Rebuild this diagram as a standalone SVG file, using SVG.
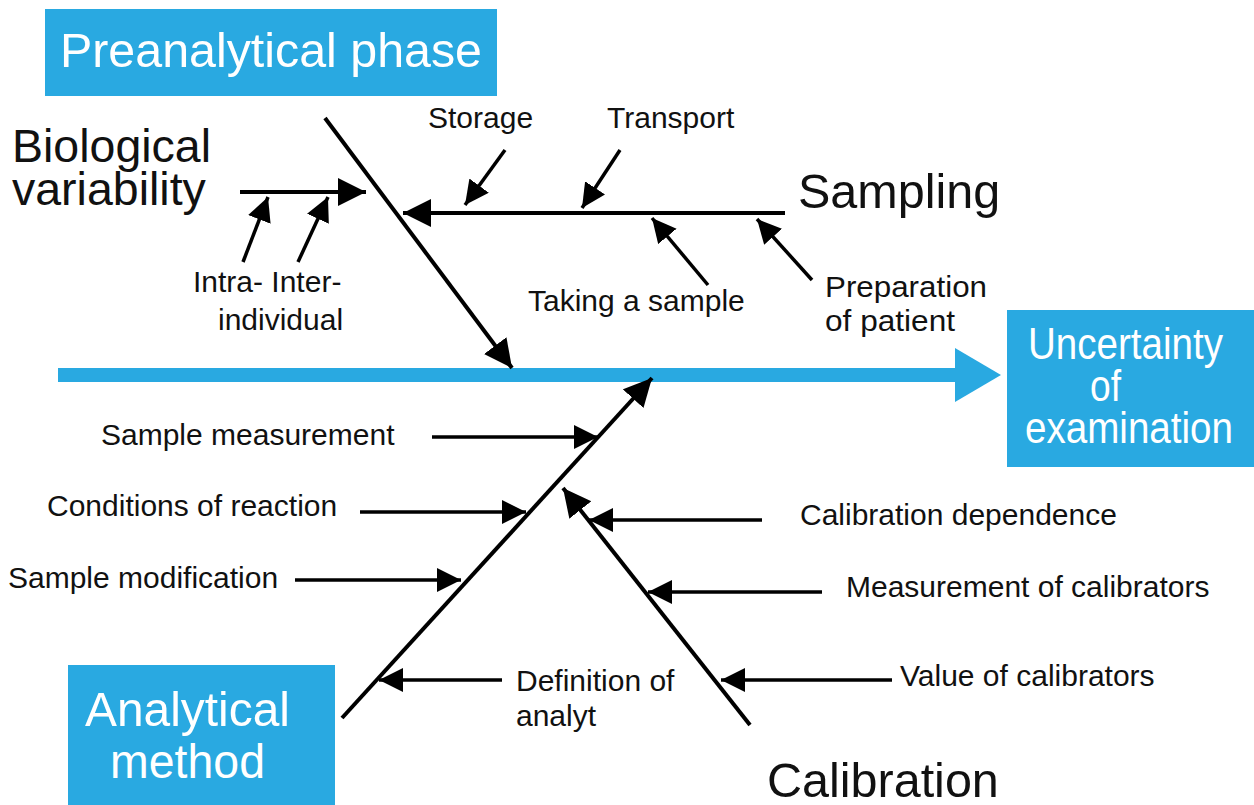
<svg xmlns="http://www.w3.org/2000/svg" width="1254" height="805" viewBox="0 0 1254 805">
<defs>
<style>
.box{fill:#29a9e1}
.bt{font-family:"Liberation Sans",Arial,sans-serif;fill:#fff;font-size:48.5px}
.bt2{font-family:"Liberation Sans",Arial,sans-serif;fill:#fff;font-size:45px}
.big{font-family:"Liberation Sans",Arial,sans-serif;fill:#111;font-size:48.5px}
.bio{font-family:"Liberation Sans",Arial,sans-serif;fill:#111;font-size:46.5px}
.lbl{font-family:"Liberation Sans",Arial,sans-serif;fill:#111;font-size:30px}
.bone{stroke:#000;stroke-width:4;fill:none}
.rib{stroke:#000;stroke-width:3.5;fill:none}
</style>
<marker id="ah" markerUnits="userSpaceOnUse" markerWidth="30" markerHeight="30" refX="28" refY="14" orient="auto" viewBox="0 0 30 30">
<path d="M0,0 L28,14 L0,28 z" fill="#000"/>
</marker>
<marker id="as" markerUnits="userSpaceOnUse" markerWidth="26" markerHeight="26" refX="24" refY="12" orient="auto" viewBox="0 0 26 26">
<path d="M0,0 L24,12 L0,24 z" fill="#000"/>
</marker>
</defs>
<rect width="1254" height="805" fill="#fff"/>

<g id="spine">
<rect x="58" y="368" width="900" height="14" class="box"/>
<polygon points="955,348 1001,375 955,402" class="box"/>
</g>

<g id="preanalytical">
<rect x="45" y="9" width="452" height="87" class="box"/>
<text x="60" y="67" class="bt" textLength="422" lengthAdjust="spacingAndGlyphs">Preanalytical phase</text>
</g>

<g id="uncertainty">
<rect x="1007" y="310" width="247" height="157" class="box"/>
<text x="1028" y="359" class="bt2" textLength="195" lengthAdjust="spacingAndGlyphs">Uncertainty</text>
<text x="1090" y="401" class="bt2" textLength="31" lengthAdjust="spacingAndGlyphs">of</text>
<text x="1025" y="443" class="bt2" textLength="208" lengthAdjust="spacingAndGlyphs">examination</text>
</g>

<g id="analytical">
<rect x="68" y="665" width="267" height="140" class="box"/>
<text x="85" y="726" class="bt" textLength="205" lengthAdjust="spacingAndGlyphs">Analytical</text>
<text x="110" y="778" class="bt" textLength="155" lengthAdjust="spacingAndGlyphs">method</text>
</g>

<g id="biological">
<text x="12" y="162" class="bio">Biological</text>
<text x="12" y="205" class="bio">variability</text>
<text x="193" y="292" class="lbl">Intra- Inter-</text>
<text x="218" y="330" class="lbl">individual</text>
</g>

<g id="sampling">
<text x="798" y="208" class="big">Sampling</text>
<text x="428" y="128" class="lbl">Storage</text>
<text x="607" y="128" class="lbl">Transport</text>
<text x="528" y="311" class="lbl">Taking a sample</text>
<text x="825" y="297" class="lbl" textLength="162" lengthAdjust="spacingAndGlyphs">Preparation</text>
<text x="825" y="331" class="lbl" textLength="130" lengthAdjust="spacingAndGlyphs">of patient</text>
</g>

<g id="method-labels">
<text x="101" y="445" class="lbl">Sample measurement</text>
<text x="47" y="516" class="lbl">Conditions of reaction</text>
<text x="8" y="588" class="lbl">Sample modification</text>
<text x="516" y="691" class="lbl">Definition of</text>
<text x="516" y="726" class="lbl">analyt</text>
</g>

<g id="calibration">
<text x="767" y="797" class="big">Calibration</text>
<text x="800" y="525" class="lbl">Calibration dependence</text>
<text x="846" y="597" class="lbl">Measurement of calibrators</text>
<text x="900" y="686" class="lbl">Value of calibrators</text>
</g>

<g id="connectors">
<line x1="325" y1="118" x2="512" y2="368" class="bone" marker-end="url(#ah)"/>
<line x1="785" y1="213" x2="403" y2="213" class="bone" marker-end="url(#ah)"/>
<line x1="240" y1="192" x2="366" y2="192" class="bone" marker-end="url(#ah)"/>
<line x1="342" y1="718" x2="652" y2="378" class="bone" marker-end="url(#ah)"/>
<line x1="750" y1="725" x2="563" y2="488" class="bone" marker-end="url(#ah)"/>
<line x1="505" y1="150" x2="465" y2="205" class="rib" marker-end="url(#as)"/>
<line x1="620" y1="150" x2="582" y2="208" class="rib" marker-end="url(#as)"/>
<line x1="708" y1="285" x2="652" y2="218" class="rib" marker-end="url(#as)"/>
<line x1="812" y1="280" x2="757" y2="219" class="rib" marker-end="url(#as)"/>
<line x1="243" y1="262" x2="268" y2="197" class="rib" marker-end="url(#as)"/>
<line x1="298" y1="262" x2="328" y2="197" class="rib" marker-end="url(#as)"/>
<line x1="432" y1="437" x2="598" y2="437" class="rib" marker-end="url(#as)"/>
<line x1="360" y1="512" x2="526" y2="512" class="rib" marker-end="url(#as)"/>
<line x1="295" y1="580" x2="461" y2="580" class="rib" marker-end="url(#as)"/>
<line x1="502" y1="680" x2="379" y2="680" class="rib" marker-end="url(#as)"/>
<line x1="762" y1="520" x2="589" y2="520" class="rib" marker-end="url(#as)"/>
<line x1="822" y1="592" x2="648" y2="592" class="rib" marker-end="url(#as)"/>
<line x1="892" y1="680" x2="721" y2="680" class="rib" marker-end="url(#as)"/>
</g>
</svg>
